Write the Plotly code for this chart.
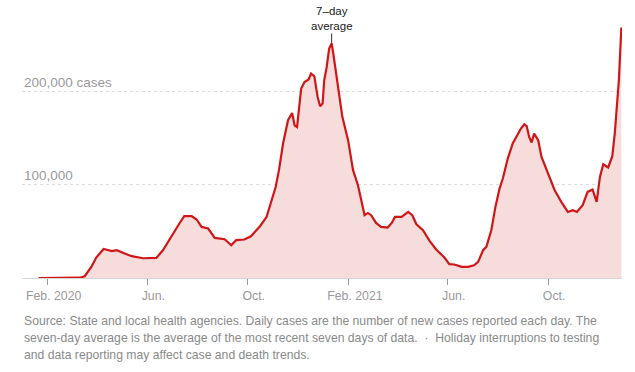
import plotly.graph_objects as go

dates = [
    "2020-01-21", "2020-03-01", "2020-03-11", "2020-03-17", "2020-03-25", "2020-03-31",
    "2020-04-09", "2020-04-19", "2020-04-25", "2020-05-03", "2020-05-13", "2020-05-27",
    "2020-06-12", "2020-06-20", "2020-07-02", "2020-07-10", "2020-07-16", "2020-07-25",
    "2020-07-31", "2020-08-06", "2020-08-14", "2020-08-22", "2020-09-03", "2020-09-11",
    "2020-09-17", "2020-09-27", "2020-10-05", "2020-10-16", "2020-10-24", "2020-10-30",
    "2020-11-04", "2020-11-08", "2020-11-13", "2020-11-19", "2020-11-24", "2020-11-27",
    "2020-11-30", "2020-12-05", "2020-12-09", "2020-12-14", "2020-12-17", "2020-12-21",
    "2020-12-25", "2020-12-28", "2020-12-31", "2021-01-02", "2021-01-05", "2021-01-08",
    "2021-01-11", "2021-01-13", "2021-01-19", "2021-01-24", "2021-01-31", "2021-02-06",
    "2021-02-12", "2021-02-18", "2021-02-20", "2021-02-24", "2021-02-28", "2021-03-06",
    "2021-03-12", "2021-03-20", "2021-03-25", "2021-03-29", "2021-04-06", "2021-04-14",
    "2021-04-19", "2021-04-24", "2021-05-02", "2021-05-10", "2021-05-18", "2021-05-28",
    "2021-06-03", "2021-06-09", "2021-06-18", "2021-06-26", "2021-07-03", "2021-07-08",
    "2021-07-14", "2021-07-18", "2021-07-24", "2021-07-29", "2021-08-03", "2021-08-07",
    "2021-08-13", "2021-08-19", "2021-08-25", "2021-08-29", "2021-09-02", "2021-09-05",
    "2021-09-08", "2021-09-11", "2021-09-14", "2021-09-19", "2021-09-23", "2021-09-29",
    "2021-10-01", "2021-10-09", "2021-10-17", "2021-10-25", "2021-10-31", "2021-11-05",
    "2021-11-12", "2021-11-18", "2021-11-24", "2021-11-29", "2021-12-03", "2021-12-07",
    "2021-12-13", "2021-12-18", "2021-12-21", "2021-12-24", "2021-12-26", "2021-12-29",
]
cases_7day_avg = [
    0, 50, 300, 1900, 11900, 22000,
    31200, 28800, 29800, 26900, 23400, 21200,
    21600, 29800, 47700, 58500, 66300, 66300,
    62800, 54800, 53100, 43000, 41600, 35200,
    40600, 41300, 44800, 55600, 65600, 81700,
    97700, 115700, 144300, 169300, 177100, 163900,
    162100, 203300, 210400, 213000, 219400, 216500,
    194300, 184300, 187200, 212200, 226500, 246200,
    251600, 240900, 203300, 172900, 147900, 115700,
    99600, 72700, 67400, 69800, 67400, 59100,
    54800, 54200, 59100, 65600, 65600, 70900,
    67400, 57700, 51300, 39800, 30600, 22000,
    14800, 14500, 11900, 11900, 13700, 17300,
    29800, 33400, 51300, 76300, 96000, 106800,
    128200, 144300, 155000, 160400, 165000, 162900,
    151400, 145400, 155000, 147900, 129900, 115700,
    112100, 94200, 81700, 70900, 72700, 70900,
    78100, 92400, 95000, 81700, 108500, 122100,
    118600, 130700, 155000, 194300, 212200, 268800,
]

tick_dates = ["2020-02-01", "2020-06-01", "2020-10-01", "2021-02-01", "2021-06-01", "2021-10-01"]
tick_labels = ["Feb. 2020", "Jun.", "Oct.", "Feb. 2021", "Jun.", "Oct."]

grid_values = [100000, 200000]
grid_labels = ["100,000", "200,000 cases"]

peak_date = "2021-01-11"
peak_value = 251600

source_lines = [
    "Source: State and local health agencies. Daily cases are the number of new cases reported each day. The",
    "seven-day average is the average of the most recent seven days of data. \u00a0\u00b7\u00a0 Holiday interruptions to testing",
    "and data reporting may affect case and death trends.",
]

W, H = 635, 372
M_L, M_R, M_T, M_B = 22, 13, 10, 94
FONT = "Liberation Sans, Arial, sans-serif"


def px_to_paper_y(py):
    plot_h = H - M_T - M_B
    return (H - M_B - py) / plot_h


fig = go.Figure()
fig.add_trace(go.Scatter(
    x=dates, y=cases_7day_avg, mode="lines",
    line=dict(color="#d01616", width=2.2),
    fill="tozeroy", fillcolor="#f7dcdc",
    hoverinfo="skip", showlegend=False,
))

annotations = []
for v, lab in zip(grid_values, grid_labels):
    annotations.append(dict(
        x=0, xref="paper", y=v, yref="y", text=lab, showarrow=False,
        xanchor="left", yanchor="bottom", yshift=0,
        font=dict(family=FONT, size=13.5, color="#9a9a9a"),
    ))

annotations.append(dict(
    x=peak_date, y=peak_value, xref="x", yref="y",
    text="7\u2013day<br>average", showarrow=True, arrowhead=0, arrowwidth=1,
    arrowcolor="#333", ax=0, ay=-25, standoff=0,
    font=dict(family=FONT, size=11.5, color="#222"),
))

for i, line in enumerate(source_lines):
    annotations.append(dict(
        x=0, xref="paper", y=px_to_paper_y(321 + 17 * i), yref="paper",
        text=line, showarrow=False, xanchor="left", yanchor="middle",
        font=dict(family=FONT, size=12.2, color="#8a8a8a"),
    ))

fig.update_layout(
    width=W, height=H,
    margin=dict(l=M_L, r=M_R, t=M_T, b=M_B, pad=0),
    paper_bgcolor="white", plot_bgcolor="white",
    showlegend=False,
    annotations=annotations,
    xaxis=dict(
        type="date",
        range=["2019-12-31 19:00", "2021-12-29 19:00"],
        tickvals=tick_dates, ticktext=tick_labels,
        ticks="outside", ticklen=6, tickwidth=1, tickcolor="#999",
        ticklabelshift=6,
        tickfont=dict(family=FONT, size=12.3, color="#999"),
        showgrid=False, showline=False, zeroline=False,
        fixedrange=True,
    ),
    yaxis=dict(
        range=[0, 287600],
        tickvals=grid_values, showticklabels=False,
        showgrid=True, gridcolor="#dddddd", griddash="3px,3px", gridwidth=1,
        zeroline=True, zerolinecolor="#d6d6d6", zerolinewidth=1,
        showline=False, ticks="", fixedrange=True,
    ),
)

fig.write_html(
    "out.html",
    config={"displayModeBar": False, "staticPlot": True},
    post_script="document.body.style.margin='0';document.body.style.overflow='hidden';",
)
